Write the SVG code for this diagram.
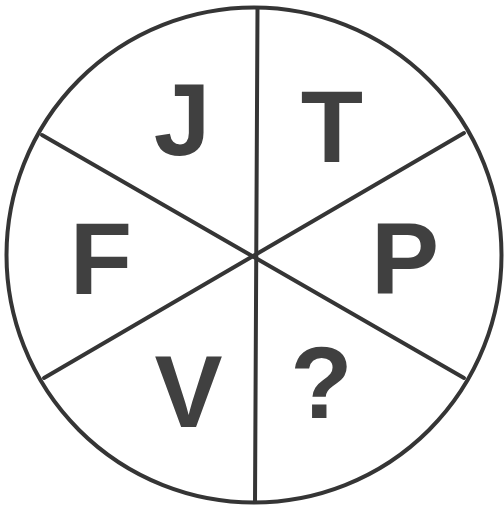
<svg xmlns="http://www.w3.org/2000/svg" width="504" height="508" viewBox="0 0 504 508">
<style>
.ln{stroke:#353535;stroke-width:4;fill:none;stroke-linecap:round}
.lt{font-family:"Liberation Sans",Arial,sans-serif;font-weight:bold;font-size:102px;fill:#404040;text-anchor:middle}
</style>
<rect width="504" height="508" fill="#fff"/>
<g id="circle"><circle class="ln" cx="254" cy="255" r="247.5"/></g>
<g id="connectors">
<line class="ln" x1="257.5" y1="8" x2="255" y2="502"/>
<line class="ln" x1="42" y1="135" x2="464" y2="378"/>
<line class="ln" x1="44" y1="378" x2="464" y2="133"/>
</g>
<g id="J"><text class="lt" x="182" y="155">J</text></g>
<g id="T"><text class="lt" x="332" y="162">T</text></g>
<g id="F"><text class="lt" x="101" y="294">F</text></g>
<g id="P"><text class="lt" x="405" y="294">P</text></g>
<g id="V"><text class="lt" x="188.5" y="427">V</text></g>
<g id="Q"><text class="lt" x="321.5" y="418">?</text></g>
</svg>
